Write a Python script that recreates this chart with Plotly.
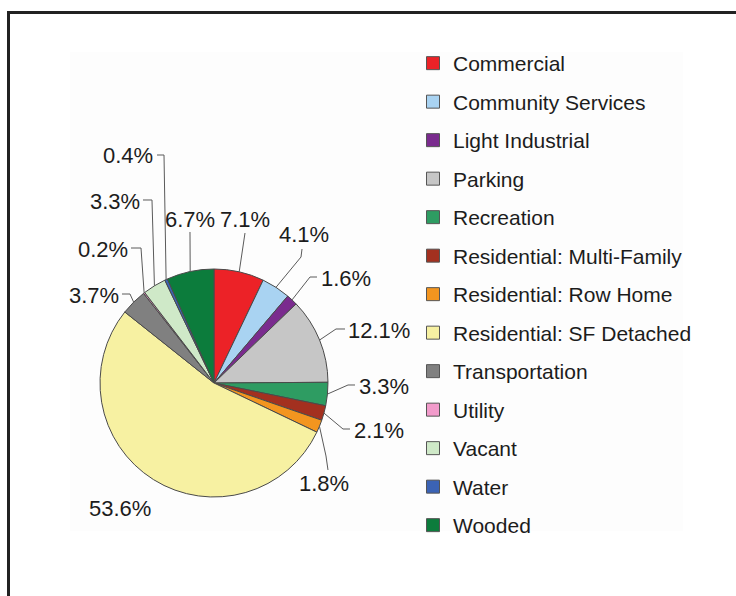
import math
import plotly.graph_objects as go

# ---- data ----
categories = ["Commercial", "Community Services", "Light Industrial", "Parking",
              "Recreation", "Residential: Multi-Family", "Residential: Row Home",
              "Residential: SF Detached", "Transportation", "Utility", "Vacant",
              "Water", "Wooded"]
shares = [7.1, 4.1, 1.6, 12.1, 3.3, 2.1, 1.8, 53.6, 3.7, 0.2, 3.3, 0.4, 6.7]
label_text = [f"{v:.1f}%" for v in shares]

# ---- style ----
colors = ["#EC2227", "#A9D3F2", "#7A2B8E", "#C6C6C6", "#2E9C62", "#A3301F",
          "#F3951F", "#F7F1A2", "#808080", "#F29BCB", "#CFE9C8", "#3B63B5",
          "#0C7C3C"]

W, H = 736, 596
CX, CY, R = 214, 383, 114  # pie centre / radius in px

def px(x):
    return x / W

def py(y):
    return (H - y) / H

# label layout (px): text centre, leader start, bend point (None = no leader)
label_pos = [(245, 219), (304, 234), (346, 278), (379, 331), (384, 386), (379, 430),
             (324, 483), (120, 508), (94, 295), (103, 249), (115, 201), (128, 156),
             (190, 219)]
leader_start = [(245, 233), (302, 249), (317, 277), (345, 329), (355, 385), (350, 429),
                (328, 470), None, (122, 294), (131, 248), (143, 200), (157, 155),
                (190, 232)]
leader_bend = [None, (301, 257), (310, 277), (336, 329), (348, 385), (343, 429),
               (326, 456), None, (130, 294), (141, 248), (152, 200), (164, 155),
               None]

fig = go.Figure()

fig.add_trace(go.Pie(
    labels=categories, values=shares, sort=False, direction="clockwise",
    rotation=0, textinfo="none", hoverinfo="label+percent",
    marker=dict(colors=colors, line=dict(color="#4a4a4a", width=1)),
    domain=dict(x=[px(CX - R), px(CX + R)], y=[py(CY + R), py(CY - R)]),
    showlegend=False,
))

# legend entries (one per category, grouped individually for spacing)
for name, col in zip(categories, colors):
    fig.add_trace(go.Scatter(
        x=[None], y=[None], mode="markers", name=name, legendgroup=name,
        marker=dict(symbol="square", size=13, color=col,
                    line=dict(color="#555555", width=1)),
        hoverinfo="skip",
    ))

# percentage labels with leader lines
total = sum(shares)
cum = 0.0
shapes = []
annotations = []
for i, v in enumerate(shares):
    mid = (cum + v / 2) / total * 2 * math.pi
    cum += v
    ax_ = CX + R * math.sin(mid)
    ay_ = CY - R * math.cos(mid)
    lx, ly = label_pos[i]
    annotations.append(dict(x=px(lx), y=py(ly), xref="paper", yref="paper",
                            text=label_text[i], showarrow=False,
                            font=dict(size=22, color="#1c1c1c",
                                      family="Liberation Sans, Arial, sans-serif"),
                            xanchor="center", yanchor="middle"))
    if leader_start[i] is not None:
        pts = [leader_start[i]]
        if leader_bend[i] is not None:
            pts.append(leader_bend[i])
        pts.append((ax_, ay_))
        path = "M " + " L ".join(f"{px(x):.5f},{py(y):.5f}" for x, y in pts)
        shapes.append(dict(type="path", path=path, xref="paper", yref="paper",
                           line=dict(color="#5a5a5a", width=1)))

# faint panel and outer frame
shapes.insert(0, dict(type="rect", xref="paper", yref="paper",
                      x0=px(70), x1=px(683), y0=py(531), y1=py(52),
                      line=dict(width=0), fillcolor="#FDFDFD", layer="below"))
shapes.append(dict(type="rect", xref="paper", yref="paper",
                   x0=px(8.5), x1=px(745), y0=py(605), y1=py(12.5),
                   line=dict(color="#222222", width=3), fillcolor="rgba(0,0,0,0)"))

fig.update_layout(
    width=W, height=H,
    margin=dict(l=0, r=0, t=0, b=0),
    paper_bgcolor="white", plot_bgcolor="white",
    xaxis=dict(visible=False), yaxis=dict(visible=False),
    font=dict(family="Liberation Sans, Arial, sans-serif", color="#1c1c1c"),
    shapes=shapes, annotations=annotations,
    legend=dict(x=px(413), y=py(43), xanchor="left", yanchor="top",
                font=dict(size=21, color="#1c1c1c"),
                tracegroupgap=8.2, bgcolor="rgba(0,0,0,0)", itemclick=False),
)

fig.write_html("out.html")
